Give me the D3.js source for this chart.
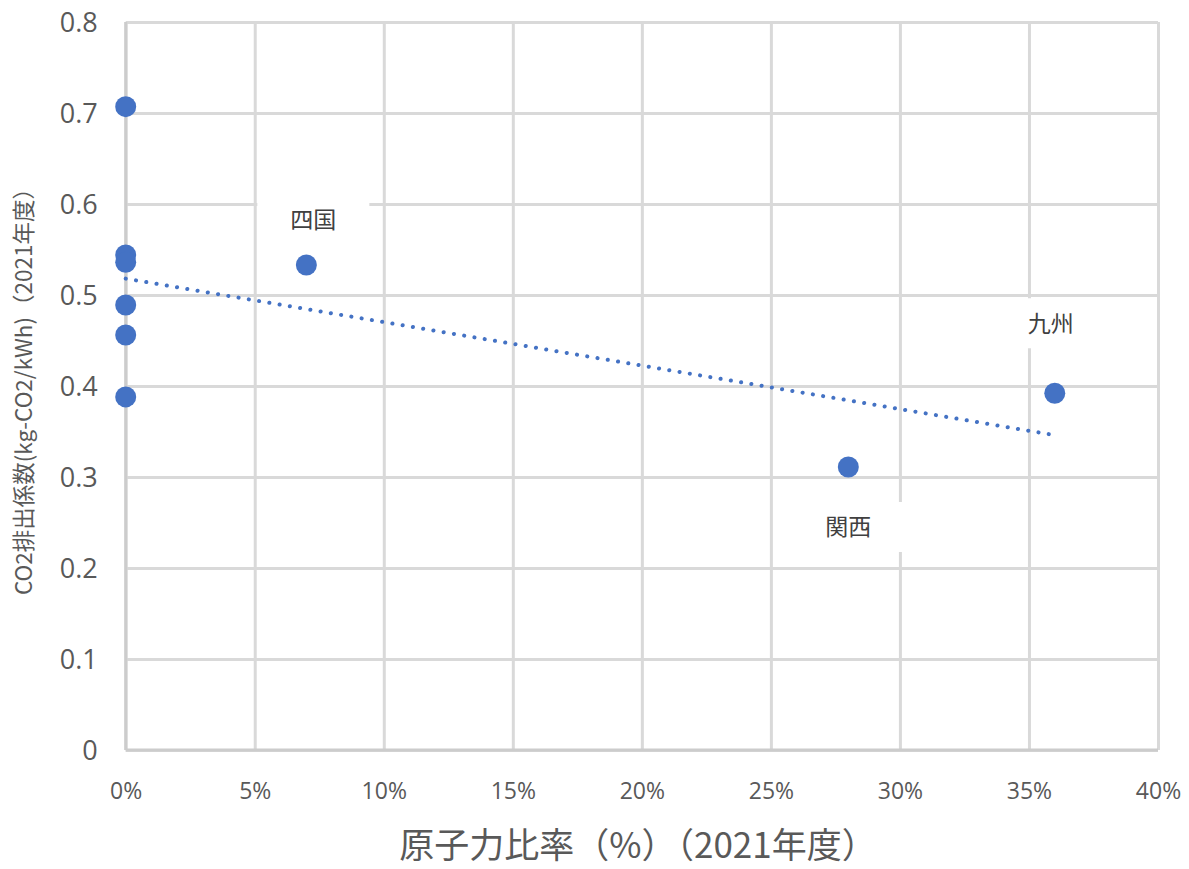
<!DOCTYPE html>
<html>
<head>
<meta charset="utf-8">
<script src="https://cdn.jsdelivr.net/npm/d3@7/dist/d3.min.js"></script>
<style>
  html, body { margin: 0; padding: 0; background: #fff; }
  svg { display: block; }
</style>
</head>
<body>
<svg id="chart" width="1189" height="869"></svg>
<script>
//Nuclear share (%) and CO2 factor per utility, 2021
var nuclearShare = [0, 0, 0, 0, 0, 0, 7, 28, 36];
var co2Factor = [0.707, 0.544, 0.536, 0.489, 0.456, 0.388, 0.533, 0.311, 0.392];
var pointLabels = ["", "", "", "", "", "", "四国", "関西", "九州"];

//Linear trend line end points
var trendX = [0, 36];
var trendY = [0.518, 0.346];

//Axis ticks
var xTicks = [0, 5, 10, 15, 20, 25, 30, 35, 40];
var yTicks = [0, 0.1, 0.2, 0.3, 0.4, 0.5, 0.6, 0.7, 0.8];

var xTitle = "原子力比率（%）（2021年度）";
var yTitle = "CO2排出係数(kg-CO2/kWh)（2021年度）";

//Layout (plot area edges)
var plotLeft = 125.7, plotRight = 1158, plotTop = 22, plotBottom = 750;
var blue = "#4472C4", grid = "#d9d9d9", tickColor = "#595959";
var latin = "'Open Sans', 'Noto Sans', sans-serif";
var cjk = "'Noto Sans CJK JP', 'Noto Sans', sans-serif";

//Label offsets from their point (px), keyed by label
var labelOffset = {
    "四国": [7, -45],
    "関西": [0, 60],
    "九州": [-4, -70]
};

var svg = d3.select("#chart");

var x = d3.scaleLinear().domain([0, 40]).range([plotLeft, plotRight]);
var y = d3.scaleLinear().domain([0, 0.8]).range([plotBottom, plotTop]);

//Vertical grid + x tick labels
var xAxis = svg.append("g")
    .attr("transform", "translate(0," + plotBottom + ")")
    .call(d3.axisBottom(x).tickValues(xTicks).tickSize(-(plotBottom - plotTop)).tickPadding(0)
        .tickFormat(function(d){ return d + "%"; }));
xAxis.select(".domain").remove();
xAxis.selectAll(".tick line").attr("stroke", grid).attr("stroke-width", 3);
xAxis.selectAll(".tick text")
    .attr("y", 49).attr("dy", null)
    .attr("fill", tickColor)
    .style("font-family", latin)
    .style("font-size", "23px");

//Horizontal grid + y tick labels
var yAxis = svg.append("g")
    .attr("transform", "translate(" + plotLeft + ",0)")
    .call(d3.axisLeft(y).tickValues(yTicks).tickSize(-(plotRight - plotLeft)).tickPadding(0)
        .tickFormat(function(d){ return d === 0 ? "0" : d3.format(".1f")(d); }));
yAxis.select(".domain").remove();
yAxis.selectAll(".tick line").attr("stroke", grid).attr("stroke-width", 3);
yAxis.selectAll(".tick text")
    .attr("x", -28).attr("dy", "0.35em")
    .attr("fill", tickColor)
    .style("font-family", latin)
    .style("font-size", "27px");

//Axis lines a touch darker than the grid
svg.append("line")
    .attr("x1", x(0)).attr("x2", x(0)).attr("y1", y(0.8)).attr("y2", y(0))
    .attr("stroke", "#cccccc").attr("stroke-width", 3);
svg.append("line")
    .attr("x1", x(0)).attr("x2", x(40)).attr("y1", y(0)).attr("y2", y(0))
    .attr("stroke", "#cccccc").attr("stroke-width", 3);

//Data label boxes (white fill hides the grid)
var labelled = nuclearShare.map(function(v, i){ return i; })
    .filter(function(i){ return pointLabels[i] !== ""; });

svg.append("g").selectAll("rect")
    .data(labelled)
    .enter().append("rect")
    .attr("x", function(i){ return x(nuclearShare[i]) + labelOffset[pointLabels[i]][0] - 56; })
    .attr("y", function(i){ return y(co2Factor[i]) + labelOffset[pointLabels[i]][1] - 25; })
    .attr("width", 112)
    .attr("height", 50)
    .attr("fill", "#fff");

//Trend line
svg.append("path")
    .datum(trendX.map(function(v, i){ return [v, trendY[i]]; }))
    .attr("d", d3.line().x(function(d){ return x(d[0]); }).y(function(d){ return y(d[1]); }))
    .attr("fill", "none")
    .attr("stroke", blue)
    .attr("stroke-width", 4)
    .attr("stroke-linecap", "round")
    .attr("stroke-dasharray", "0.1 10.3");

//Points
svg.append("g").selectAll("circle")
    .data(nuclearShare)
    .enter().append("circle")
    .attr("cx", function(d){ return x(d); })
    .attr("cy", function(d, i){ return y(co2Factor[i]); })
    .attr("r", 10.5)
    .attr("fill", blue);

//Data labels
svg.append("g").selectAll("text")
    .data(labelled)
    .enter().append("text")
    .attr("x", function(i){ return x(nuclearShare[i]) + labelOffset[pointLabels[i]][0]; })
    .attr("y", function(i){ return y(co2Factor[i]) + labelOffset[pointLabels[i]][1]; })
    .attr("dy", "0.36em")
    .attr("text-anchor", "middle")
    .attr("fill", "#404040")
    .style("font-family", cjk)
    .style("font-size", "23px")
    .text(function(i){ return pointLabels[i]; });

//Axis titles
svg.append("text")
    .attr("x", 638).attr("y", 858)
    .attr("text-anchor", "middle")
    .attr("fill", tickColor)
    .style("font-family", cjk)
    .style("font-size", "35px")
    .text(xTitle);

svg.append("text")
    .attr("transform", "translate(32,386) rotate(-90)")
    .attr("text-anchor", "middle")
    .attr("fill", tickColor)
    .style("font-family", cjk)
    .style("font-size", "22.5px")
    .text(yTitle);
</script>
</body>
</html>
